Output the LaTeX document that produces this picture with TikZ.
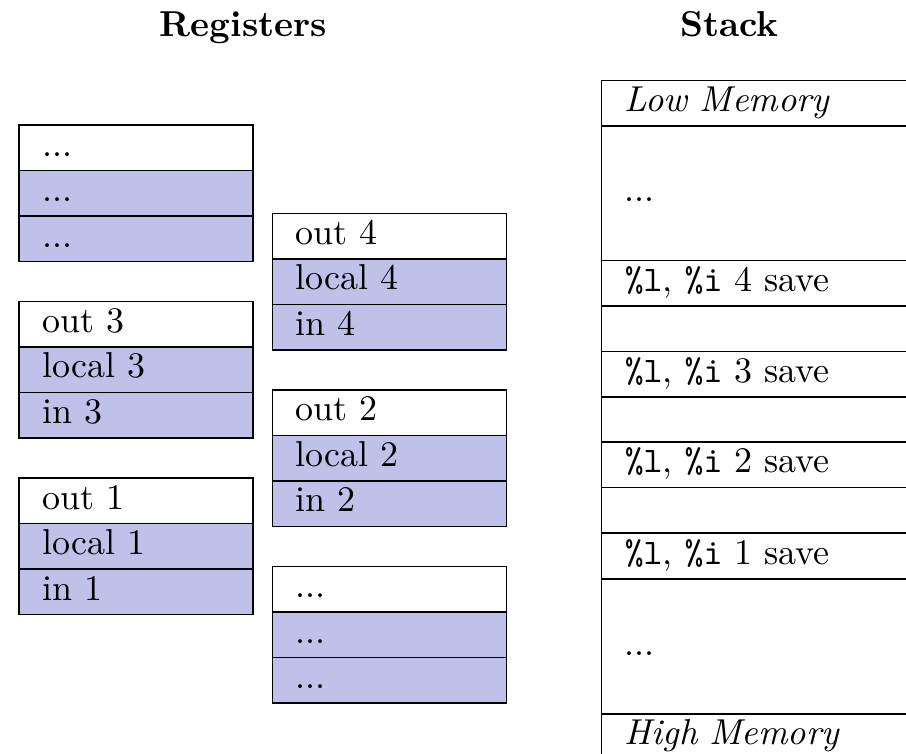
\documentclass[tikz,border=0pt]{standalone}
\usetikzlibrary{calc}
\definecolor{winfill}{RGB}{191,193,233}

\tikzset{
  cell/.style={draw=black, line width=0.4pt, anchor=north west, inner ysep=0pt,
    inner xsep=6.5pt, text width=52pt, align=left, minimum width=65pt,
    minimum height=12.64pt, text height=6.5pt, text depth=1.9pt},
  wincell/.style={cell, fill=winfill},
  stackcell/.style={cell, text width=78.5pt, minimum width=91.5pt, minimum height=12.61pt},
  tallcell/.style={stackcell, minimum height=37.42pt},
  heading/.style={anchor=base, font=\bfseries, inner sep=0pt}
}

% one register window: out (white), local and in (shaded)
\newcommand\regwindow[6]{%
  \node[cell]    (#1o) at (#2,#3) {#4};
  \node[wincell] (#1l) at (#2,#3+45.5) {#5};
  \node[wincell] (#1i) at (#2,#3+91) {#6};
}
\newcommand\saverow[1]{\texttt{\%l}, \texttt{\%i} #1 save}

\begin{document}
\begin{tikzpicture}[x=0.2778pt, y=-0.2778pt]
  \useasboundingbox (0,0) rectangle (906,754);
  \clip (0,0) rectangle (906,754);

  % headings
  \node[heading] (hreg) at (243.3,36) {Registers};
  \node[heading] (hstk) at (729.5,36) {Stack};

  % register windows, left column
  \regwindow{wa}{18.3}{124.3}{...}{...}{...}
  \regwindow{wc}{18.3}{300.7}{out 3}{local 3}{in 3}
  \regwindow{we}{18.3}{477.3}{out 1}{local 1}{in 1}

  % register windows, right column
  \regwindow{wd}{271.7}{212.6}{out 4}{local 4}{in 4}
  \regwindow{wb}{271.7}{389.2}{out 2}{local 2}{in 2}
  \regwindow{wf}{271.7}{565.8}{...}{...}{...}

  % the stack
  \node[stackcell] (low)   at (600.7,80)    {\textit{Low Memory}};
  \node[tallcell]  (sdotA) at (600.7,125.3) {...};
  \node[stackcell] (sv4)   at (600.7,260)   {\saverow{4}};
  \node[stackcell] (gp4)   at (600.7,305.3) {};
  \node[stackcell] (sv3)   at (600.7,350.7) {\saverow{3}};
  \node[stackcell] (gp3)   at (600.7,396)   {};
  \node[stackcell] (sv2)   at (600.7,441.3) {\saverow{2}};
  \node[stackcell] (gp2)   at (600.7,487)   {};
  \node[stackcell] (sv1)   at (600.7,532.7) {\saverow{1}};
  \node[tallcell]  (sdotB) at (600.7,578.7) {...};
  \node[stackcell] (high)  at (600.7,713.3) {\textit{High Memory}};
\end{tikzpicture}
\end{document}
